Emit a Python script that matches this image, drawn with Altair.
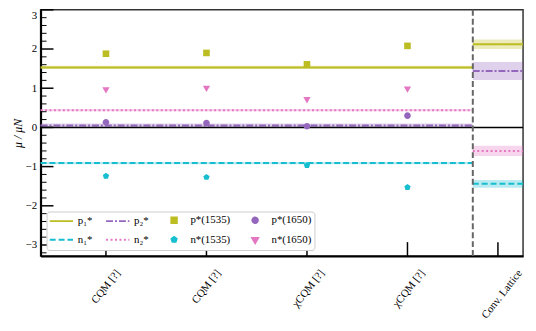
import altair as alt
import pandas as pd

# ---------------- data ----------------
x_pos = [0, 1, 2, 3]
model_labels = ["CQM [?]", "CQM [?]", "χCQM [?]", "χCQM [?]"]
lattice_x = 3.9
lattice_label = "Conv. Lattice"
divider_x = 3.65
x_min, x_max = -0.65, 4.15
y_min, y_max = -3.28, 3.0

# legend order (filled column by column, two rows)
series = ["p₁*", "n₁*", "p₂*", "n₂*", "p*(1535)", "n*(1535)", "p*(1650)", "n*(1650)"]
colors = ["#bcbd22", "#17becf", "#9467bd", "#e377c2", "#bcbd22", "#17becf", "#9467bd", "#e377c2"]
EXT = "M-4.3,0M4.3,0"  # invisible extent so every legend handle has the same width
LINE = "M-4.3,0H4.3"
SQUARE = EXT + "M-1,-1H1V1H-1Z"
CIRCLE = EXT + "M-1,0A1,1,0,1,0,1,0A1,1,0,1,0,-1,0Z"
PENT = EXT + "M0,-1L0.951,-0.309L0.588,0.809L-0.588,0.809L-0.951,-0.309Z"
TRI = EXT + "M-1.1,-0.63L1.1,-0.63L0,1.27Z"
shapes = [LINE, LINE, LINE, LINE, SQUARE, PENT, CIRCLE, TRI]
dashes = [[1, 0], [6, 3], [7, 2, 2, 2], [2, 2.5], [1, 0], [1, 0], [1, 0], [1, 0]]

# resonance points (model predictions)
p1535 = [1.88, 1.90, 1.61, 2.08]
n1535 = [-1.24, -1.27, -0.97, -1.53]
p1650 = [0.13, 0.11, 0.03, 0.30]
n1650 = [0.97, 1.01, 0.72, 0.99]

# horizontal lines: model-average region and lattice region
line_series = ["p₁*", "p₂*", "n₁*", "n₂*"]
model_mean = [1.53, 0.05, -0.91, 0.44]
model_err = [0.04, 0.05, 0.03, 0.03]
lattice_mean = [2.12, 1.44, -1.44, -0.60]
lattice_err = [0.12, 0.23, 0.10, 0.13]

y_major = [-3, -2, -1, 0, 1, 2, 3]
y_minor = [round(-3.2 + 0.2 * i, 1) for i in range(32) if abs(round(-3.2 + 0.2 * i, 1) % 1) > 1e-9]

# ---------------- tables ----------------
rows = []
for s, m, e, lm, le in zip(line_series, model_mean, model_err, lattice_mean, lattice_err):
    rows.append(dict(series=s, x1=x_min, x2=divider_x, y=m, lo=m - e, hi=m + e))
    rows.append(dict(series=s, x1=divider_x, x2=x_max, y=lm, lo=lm - le, hi=lm + le))
lines_df = pd.DataFrame(rows)

pts = []
for name, vals in [("p*(1535)", p1535), ("n*(1535)", n1535), ("p*(1650)", p1650), ("n*(1650)", n1650)]:
    for x, v in zip(x_pos, vals):
        pts.append(dict(series=name, x=x, y=v))
pts_df = pd.DataFrame(pts)

W, H = 488, 249
FONT = "Liberation Serif"

xs = alt.Scale(domain=[x_min, x_max], nice=False, zero=False)
ys = alt.Scale(domain=[y_min, y_max], nice=False, zero=False)

tick_vals = x_pos + [lattice_x]
tick_labels = model_labels + [lattice_label]
label_expr = " : ".join(f"datum.value == {v} ? '{l}'" for v, l in zip(tick_vals, tick_labels)) + " : ''"

leg = alt.Legend(
    title=None, orient="bottom-left", offset=6, columns=4, fillColor="white",
    strokeColor="#cccccc", cornerRadius=3, padding=3, labelFont=FONT, labelFontSize=11,
    symbolSize=30, symbolStrokeWidth=2, symbolOpacity=1, columnPadding=9, rowPadding=5,
    symbolOffset=6.5, labelOffset=11,
)

fill_enc = alt.Fill("series:N", scale=alt.Scale(domain=series, range=colors), legend=leg)
stroke_enc = alt.Stroke("series:N", scale=alt.Scale(domain=series, range=colors), legend=leg)
shape_enc = alt.Shape("series:N", scale=alt.Scale(domain=series, range=shapes), legend=leg)
dash_enc = alt.StrokeDash("series:N", scale=alt.Scale(domain=series, range=dashes), legend=leg)

x_axis = alt.Axis(
    values=tick_vals, labelExpr=label_expr, title=None, ticks=False, grid=False,
    domainColor="black", domainWidth=2, labelAngle=-52, labelAlign="right",
    labelBaseline="middle", labelPadding=15, labelFont=FONT, labelFontSize=11,
    labelColor="black",
    labelOffset={"condition": [{"test": "datum.value < 1.5", "value": 12},
                               {"test": "datum.value < 3.5", "value": 15}], "value": 22},
)
y_axis = alt.Axis(
    values=y_major, title="μ / μN", ticks=False, grid=False, domainColor="black",
    domainWidth=2, labelPadding=4, labelFont=FONT, labelFontSize=11, labelColor="black",
    labelFlush=True,
    titleFont=FONT, titleFontSize=12, titleFontStyle="italic", titleFontWeight="normal",
    titlePadding=1, titleColor="black",
)

bands = alt.Chart(lines_df).mark_rect(opacity=0.3).encode(
    x=alt.X("x1:Q", scale=xs, axis=x_axis), x2="x2:Q",
    y=alt.Y("lo:Q", scale=ys, axis=y_axis), y2="hi:Q",
    fill=fill_enc,
)
rules = alt.Chart(lines_df).mark_rule(strokeWidth=2).encode(
    x="x1:Q", x2="x2:Q", y="y:Q", stroke=stroke_enc, strokeDash=dash_enc,
)
zero = alt.Chart(pd.DataFrame({"y": [0]})).mark_rule(color="black", strokeWidth=1.5).encode(
    y="y:Q"
)
points = alt.Chart(pts_df).mark_point(filled=True, size=45, opacity=1, strokeWidth=0).encode(
    x="x:Q", y="y:Q", fill=fill_enc, stroke=stroke_enc, shape=shape_enc,
)
divider = alt.Chart(pd.DataFrame({"x": [divider_x]})).mark_rule(
    color="#666666", strokeWidth=2, strokeDash=[6, 3]
).encode(x="x:Q")
ymaj = alt.Chart(pd.DataFrame({"y": y_major})).mark_rule(color="black", strokeWidth=1.5).encode(
    y="y:Q", x=alt.value(0), x2=alt.value(13)
)
ymin_t = alt.Chart(pd.DataFrame({"y": y_minor})).mark_rule(color="black", strokeWidth=1).encode(
    y="y:Q", x=alt.value(0), x2=alt.value(6)
)
xt = alt.Chart(pd.DataFrame({"x": tick_vals})).mark_rule(color="black", strokeWidth=1.5).encode(
    x="x:Q", y=alt.value(H), y2=alt.value(H - 14)
)

chart = alt.layer(bands, rules, zero, points, divider, ymaj, ymin_t, xt).properties(
    width=W, height=H,
    autosize=alt.AutoSizeParams(type="none"),
    padding={"left": 33, "top": 0, "right": 5, "bottom": 70},
).configure_view(stroke="#333333", strokeWidth=1.5)

chart.save("out.html", embed_options={"renderer": "svg", "actions": False})
